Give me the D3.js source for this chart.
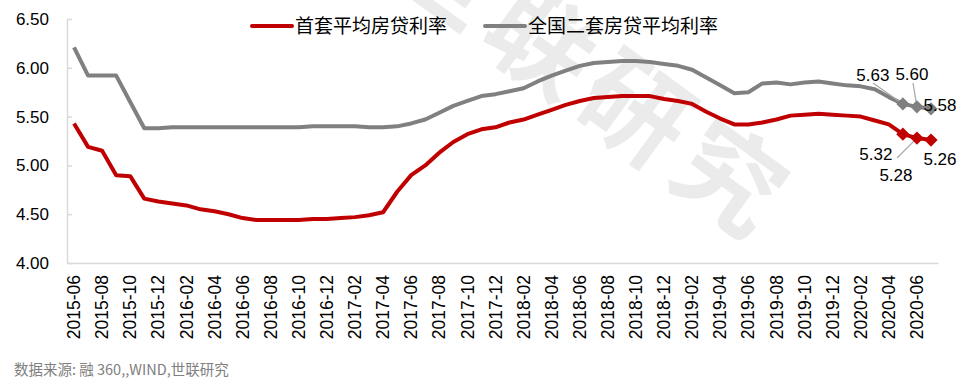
<!DOCTYPE html>
<html>
<head>
<meta charset="utf-8">
<script src="https://cdn.jsdelivr.net/npm/d3@7"></script>
<style>
  body { margin: 0; background: #fff; }
  svg { display: block; font-family: "Liberation Sans", Arial, "Noto Sans CJK SC", sans-serif; }
</style>
</head>
<body>
<svg id="chart" width="971" height="385"></svg>
<script>
// data
const months = [
  '2015-06','2015-07','2015-08','2015-09','2015-10','2015-11','2015-12',
  '2016-01','2016-02','2016-03','2016-04','2016-05','2016-06','2016-07','2016-08','2016-09','2016-10','2016-11','2016-12',
  '2017-01','2017-02','2017-03','2017-04','2017-05','2017-06','2017-07','2017-08','2017-09','2017-10','2017-11','2017-12',
  '2018-01','2018-02','2018-03','2018-04','2018-05','2018-06','2018-07','2018-08','2018-09','2018-10','2018-11','2018-12',
  '2019-01','2019-02','2019-03','2019-04','2019-05','2019-06','2019-07','2019-08','2019-09','2019-10','2019-11','2019-12',
  '2020-01','2020-02','2020-03','2020-04','2020-05','2020-06','2020-07'
]

const firstHome = [
  5.43, 5.19, 5.15, 4.90, 4.89, 4.66, 4.63,
  4.61, 4.59, 4.55, 4.53, 4.50, 4.46, 4.44, 4.44, 4.44, 4.44, 4.45, 4.45,
  4.46, 4.47, 4.49, 4.52, 4.73, 4.90, 5.00, 5.13, 5.24, 5.32, 5.37, 5.39,
  5.44, 5.47, 5.52, 5.57, 5.62, 5.66, 5.69, 5.70, 5.71, 5.71, 5.71, 5.68,
  5.66, 5.63, 5.55, 5.48, 5.42, 5.42, 5.44, 5.47, 5.51, 5.52, 5.53, 5.52,
  5.51, 5.50, 5.46, 5.42, 5.32, 5.28, 5.26
]

const secondHome = [
  6.21, 5.92, 5.92, 5.92, 5.65, 5.38, 5.38,
  5.39, 5.39, 5.39, 5.39, 5.39, 5.39, 5.39, 5.39, 5.39, 5.39, 5.40, 5.40,
  5.40, 5.40, 5.39, 5.39, 5.40, 5.43, 5.47, 5.54, 5.61, 5.66, 5.71, 5.73,
  5.76, 5.79, 5.86, 5.92, 5.97, 6.02, 6.05, 6.06, 6.07, 6.07, 6.06, 6.04,
  6.02, 5.98, 5.90, 5.82, 5.74, 5.75, 5.84, 5.85, 5.83, 5.85, 5.86, 5.84,
  5.82, 5.81, 5.78, 5.70, 5.63, 5.60, 5.58
]

const seriesNames = ['首套平均房贷利率', '全国二套房贷平均利率']
const yTicks = [4.0, 4.5, 5.0, 5.5, 6.0, 6.5]
const xTickLabels = months.filter((m, i) => i % 2 == 0)
const markedMonths = ['2020-05', '2020-06', '2020-07']
const sourceText = '数据来源: 融 360,,WIND,世联研究'
const watermarkText = '世联研究'

const svg = d3.select('#chart')

const plotLeft = 67, plotRight = 938, plotTop = 19, plotBottom = 263

const xScale = d3.scaleBand().domain(months).range([plotLeft, plotRight]).padding(0)
const xMid = m => xScale(m) + xScale.bandwidth() / 2
const yScale = d3.scaleLinear().domain([4, 6.5]).range([plotBottom, plotTop])

// watermark (faint, rotated, sits behind everything)
svg.append('text')
  .attr('transform', 'translate(592,80) rotate(36)')
  .attr('text-anchor', 'middle')
  .attr('dy', '0.35em')
  .style('font-family', '"Noto Sans CJK SC", sans-serif')
  .style('font-weight', 'bold')
  .style('font-size', '106px')
  .style('letter-spacing', '10px')
  .attr('fill', '#ebebeb')
  .text(watermarkText)

// y axis
const yAxis = d3.axisLeft(yScale).tickValues(yTicks).tickSize(0).tickPadding(18)
  .tickFormat(d3.format('.2f'))
const yG = svg.append('g').attr('transform', 'translate(' + plotLeft + ',0)').call(yAxis)
yG.select('.domain').attr('stroke', '#d9d9d9').attr('stroke-width', 1.5)
yG.selectAll('text').style('font-size', '17px').attr('fill', '#000')
// little ticks pointing into the plot
yG.selectAll('.tick').append('line')
  .attr('x1', 0).attr('x2', 5).attr('stroke', '#d9d9d9').attr('stroke-width', 1.5)

// x axis
const xAxis = d3.axisBottom(xScale).tickValues(xTickLabels).tickSize(0).tickSizeOuter(0)
const xG = svg.append('g').attr('transform', 'translate(0,' + plotBottom + ')').call(xAxis)
xG.select('.domain').attr('stroke', '#d9d9d9').attr('stroke-width', 1.5)
xG.selectAll('text')
  .style('font-size', '17.5px')
  .attr('fill', '#000')
  .attr('text-anchor', 'end')
  .attr('transform', 'rotate(-90)')
  .attr('x', -12)
  .attr('y', 0)
  .attr('dy', '0.35em')

// lines
const series = [
  { name: seriesNames[0], values: firstHome, color: '#c00000' },
  { name: seriesNames[1], values: secondHome, color: '#808080' }
]

const line = d3.line()
  .x((d, i) => xMid(months[i]))
  .y(d => yScale(d))

series.slice().reverse().forEach(s => {
  svg.append('path')
    .datum(s.values)
    .attr('d', line)
    .attr('fill', 'none')
    .attr('stroke', s.color)
    .attr('stroke-width', 4)
    .attr('stroke-linejoin', 'round')
})

// leader lines (drawn under markers)
const leaders = [
  { s: 1, m: '2020-05', from: [873, 83] },
  { s: 1, m: '2020-06', from: [913, 83] },
  { s: 0, m: '2020-06', from: [897, 158] }
]
leaders.forEach(l => {
  let i = months.indexOf(l.m)
  svg.append('line')
    .attr('x1', l.from[0]).attr('y1', l.from[1])
    .attr('x2', xMid(l.m)).attr('y2', yScale(series[l.s].values[i]))
    .attr('stroke', '#a6a6a6').attr('stroke-width', 1.2)
})

// markers on the last three months
const diamond = d3.symbol().type(d3.symbolSquare).size(88)
series.forEach(s => {
  markedMonths.forEach(m => {
    let i = months.indexOf(m)
    svg.append('path')
      .attr('d', diamond)
      .attr('transform', 'translate(' + xMid(m) + ',' + yScale(s.values[i]) + ') rotate(45)')
      .attr('fill', s.color)
  })
})

// data labels, offsets relative to the point
const labelOffsets = [
  [[-27, 20], [-21, 37], [9, 19]],    // first home
  [[-30, -29], [-5, -33], [9, -3.5]]  // second home
]
series.forEach((s, si) => {
  markedMonths.forEach((m, k) => {
    let i = months.indexOf(m)
    let off = labelOffsets[si][k]
    svg.append('text')
      .attr('x', xMid(m) + off[0])
      .attr('y', yScale(s.values[i]) + off[1])
      .attr('dy', '0.35em')
      .attr('text-anchor', 'middle')
      .style('font-size', '17px')
      .attr('fill', '#000')
      .text(d3.format('.2f')(s.values[i]))
  })
})

// legend
const legendPos = [252, 485]
series.forEach((s, i) => {
  let g = svg.append('g').attr('transform', 'translate(' + legendPos[i] + ',26)')
  g.append('line').attr('x1', 0).attr('x2', 40)
    .attr('stroke', s.color).attr('stroke-width', 4).attr('stroke-linecap', 'round')
  g.append('text')
    .attr('x', 43)
    .attr('dy', '0.35em')
    .style('font-family', '"Noto Sans CJK SC", sans-serif')
    .style('font-size', '19px')
    .attr('fill', '#000')
    .text(s.name)
})

// source note
svg.append('text')
  .attr('x', 14)
  .attr('y', 375)
  .style('font-family', '"Noto Sans CJK SC", sans-serif')
  .style('font-size', '14.5px')
  .attr('fill', '#808080')
  .text(sourceText)
</script>
</body>
</html>
